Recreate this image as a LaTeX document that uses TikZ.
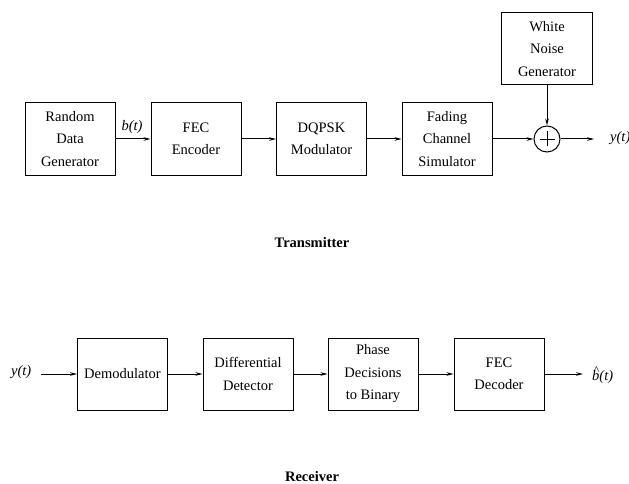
\documentclass[tikz,border=0pt]{standalone}
\usepackage{fontspec}
\setmainfont{Liberation Serif}
\usetikzlibrary{arrows.meta}
\begin{document}
\begin{tikzpicture}[x=1pt,y=-1pt,
  blk/.style={draw, line width=1pt, minimum width=90pt, minimum height=72pt,
    align=center, inner sep=0pt, font=\fontsize{14.5}{22.5}\selectfont},
  sig/.style={-{Stealth[length=7pt,width=3.6pt]}, line width=1pt},
  lbl/.style={inner sep=0pt, font=\fontsize{14.5}{16}\selectfont\itshape},
  ttl/.style={inner sep=0pt, font=\fontsize{14.5}{16}\selectfont\bfseries},
  adder/.style={draw, circle, line width=1pt, minimum size=26pt, inner sep=0pt,
    path picture={\draw[line width=0.8pt]
      ([xshift=-7.5pt]path picture bounding box.center) -- ([xshift=7.5pt]path picture bounding box.center)
      ([yshift=-7.5pt]path picture bounding box.center) -- ([yshift=7.5pt]path picture bounding box.center);}}]
\useasboundingbox (0,0) rectangle (629,484);

% transmitter chain
\node[blk] (rdg) at (70,139) {Random\\Data\\Generator};
\node[blk] (fec) at (196,139) {FEC\\Encoder};
\node[blk] (mod) at (321.5,139) {DQPSK\\Modulator};
\node[blk] (fad) at (447,139) {Fading\\Channel\\Simulator};
\node[adder] (sum) at (547,139) {};
\node[blk, minimum width=91pt] (wng) at (547,49) {White\\Noise\\Generator};
\coordinate (txout) at (594,139);
\node[lbl, anchor=west] (yt) at (610,138) {y(t)};
\node[lbl, anchor=south] (bt) at (132,134) {b(t)};

\draw[sig] (rdg) -- (fec);
\draw[sig] (fec) -- (mod);
\draw[sig] (mod) -- (fad);
\draw[sig] (fad) -- (sum);
\draw[sig] (wng) -- (sum);
\draw[sig] (sum) -- (txout);

\node[ttl] (tx) at (312,243) {Transmitter};

% receiver chain
\node[lbl, anchor=west] (yin) at (11,372) {y(t)};
\coordinate (rxin) at (41,374);
\node[blk] (dem) at (122.5,374) {Demodulator};
\node[blk] (dd) at (248,374) {Differential\\Detector};
\node[blk] (pd) at (373,374) {Phase\\Decisions\\to Binary};
\node[blk] (dec) at (499,374) {FEC\\Decoder};
\coordinate (rxout) at (583,374);
\node[lbl, anchor=west] (bhat) at (592,375)
  {\makebox[0pt][l]{\hspace{1.5pt}\raisebox{6pt}{\fontsize{12}{12}\selectfont\upshape\textasciicircum}}b(t)};

\draw[sig] (rxin) -- (dem);
\draw[sig] (dem) -- (dd);
\draw[sig] (dd) -- (pd);
\draw[sig] (pd) -- (dec);
\draw[sig] (dec) -- (rxout);

\node[ttl] (rx) at (312,477) {Receiver};
\end{tikzpicture}
\end{document}
